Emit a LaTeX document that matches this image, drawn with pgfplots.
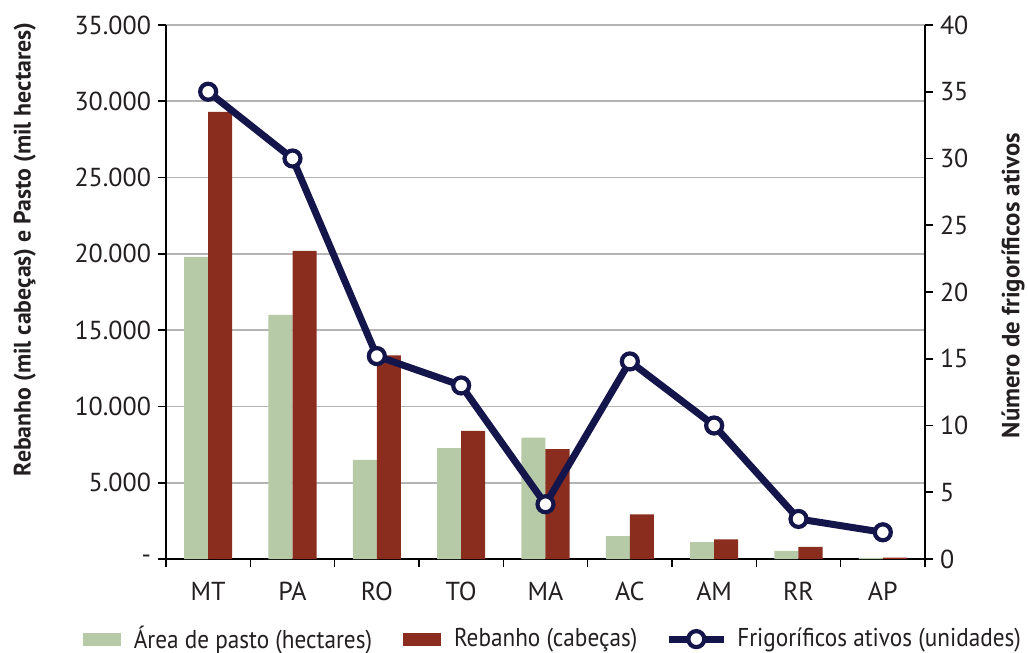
\documentclass[border=0pt]{standalone}
\usepackage{fontspec}
\setmainfont{PT Sans}
\newfontfamily\legendfont[FakeStretch=0.9]{PT Sans}
\usepackage{pgfplots}
\pgfplotsset{compat=1.18}

\definecolor{pasto}{HTML}{B7CAA8}
\definecolor{rebanho}{HTML}{8A2D1E}
\definecolor{frigo}{HTML}{13154B}
\definecolor{txt}{HTML}{231F20}
\definecolor{grade}{HTML}{B4B4B4}

\pgfplotsset{
  barleg/.style={legend image code/.code={\fill[##1] (0pt,-3.25pt) rectangle (19pt,3.25pt);}},
  lineleg/.style={legend image code/.code={\draw[mark repeat=2,mark phase=2,##1]
    plot coordinates {(0pt,0pt) (13.75pt,0pt) (27.5pt,0pt)};}},
}

\begin{document}
\begin{tikzpicture}
\useasboundingbox (0,0) rectangle (514pt,326.5pt);

% eixo esquerdo: barras
\begin{axis}[
  at={(83pt,47pt)}, anchor=south west,
  scale only axis, width=379.5pt, height=267pt,
  xmin=-0.5, xmax=8.5, ymin=0, ymax=35000,
  axis x line*=bottom, axis y line*=left,
  axis line style={black, line width=0.8pt},
  ybar=0pt, bar width=0.285,
  xtick={-0.5,0.5,...,8.5},
  x tick label as interval,
  xticklabels={MT,PA,RO,TO,MA,AC,AM,RR,AP},
  ytick={0,5000,...,35000},
  scaled y ticks=false,
  yticklabels={-,5.000,10.000,15.000,20.000,25.000,30.000,35.000},
  ymajorgrids, grid style={grade, line width=0.8pt},
  tick align=outside, major tick length=4pt,
  tick style={black, line width=0.8pt},
  /pgf/number format/assume math mode=true,
  tick label style={font=\fontsize{13}{15}\selectfont, text=txt},
  xticklabel style={yshift=-4pt},
  ylabel={Rebanho (mil cabeças) e Pasto (mil hectares)},
  ylabel style={at={(axis description cs:-0.186,0.58)}, anchor=center,
    font=\bfseries\fontsize{11.9}{14}\selectfont, text=txt},
]
\addplot[fill=pasto, draw=none] coordinates {
  (0,19800) (1,16000) (2,6500) (3,7270) (4,7950)
  (5,1500) (6,1110) (7,540) (8,70)
};
\addplot[fill=rebanho, draw=none] coordinates {
  (0,29300) (1,20200) (2,13350) (3,8390) (4,7200)
  (5,2930) (6,1290) (7,790) (8,90)
};
\end{axis}

% eixo direito: frigorificos
\begin{axis}[
  at={(83pt,47pt)}, anchor=south west,
  scale only axis, width=379.5pt, height=267pt,
  xmin=-0.5, xmax=8.5, ymin=0, ymax=40,
  axis x line=none, axis y line*=right,
  axis line style={black, line width=0.8pt},
  ytick={0,5,...,40},
  yticklabels={0,5,10,15,20,25,30,35,40},
  tick align=outside, major tick length=4pt,
  tick style={black, line width=0.8pt},
  /pgf/number format/assume math mode=true,
  tick label style={font=\fontsize{13}{15}\selectfont, text=txt},
  ylabel={Número de frigoríficos ativos},
  ylabel style={at={(axis description cs:1.116,0.512)}, anchor=center,
    font=\bfseries\fontsize{12.4}{14}\selectfont, text=txt},
  legend columns=3,
  legend style={at={(0.511,-0.15)}, anchor=center, draw=none, fill=none,
    font=\legendfont\fontsize{12.9}{15}\selectfont, text=txt,
    /tikz/column 1/.style={column sep=4.5pt},
    /tikz/column 2/.style={column sep=13.5pt},
    /tikz/column 3/.style={column sep=4.5pt},
    /tikz/column 4/.style={column sep=12pt},
    /tikz/column 5/.style={column sep=3pt}},
]
\addlegendimage{fill=pasto, draw=none, barleg}
\addlegendimage{fill=rebanho, draw=none, barleg}
\addplot[frigo, line width=3.5pt, mark=*,
  mark options={fill=white, draw=frigo, line width=2.1pt}, mark size=4pt,
  lineleg]
  coordinates {
  (0,35) (1,30) (2,15.2) (3,13) (4,4.1)
  (5,14.8) (6,10) (7,3) (8,2)
};
\legend{Área de pasto (hectares), Rebanho (cabeças), Frigoríficos ativos (unidades)}
\end{axis}
\end{tikzpicture}
\end{document}
